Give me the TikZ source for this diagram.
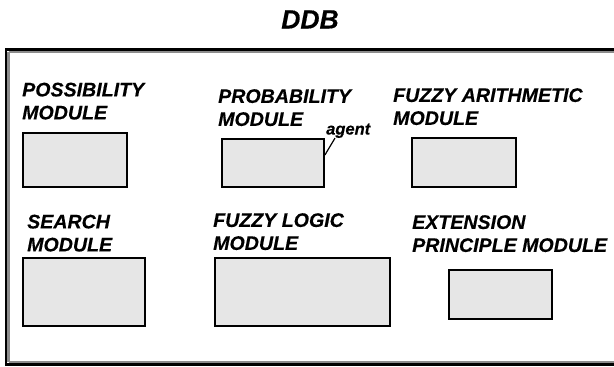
\documentclass[tikz,border=0pt]{standalone}
\usepackage{fontspec}
\setmainfont{Liberation Sans}[BoldItalicFeatures={FakeBold=0.35}]
\definecolor{boxgray}{HTML}{E6E6E6}
\definecolor{framegray}{HTML}{8C8C8C}
\begin{document}
\begin{tikzpicture}[x=1pt, y=-1pt,
  modlabel/.style={anchor=north west, inner sep=0pt, align=left,
    font=\fontsize{19.6}{23}\selectfont\bfseries\itshape},
  modbox/.style={draw, line width=1.8pt, fill=boxgray}]
\useasboundingbox (0,0) rectangle (614,367);
% outer frame, runs off the right side
\begin{scope}
\clip (0,0) rectangle (614,367);
\draw[line width=2.5pt] (6,49.5) rectangle (630,364.5);
\draw[framegray, line width=2.5pt] (8.5,52) -- (630,52);
\draw[framegray, line width=2.5pt] (8.5,52) -- (8.5,362);
\draw[framegray, line width=2.5pt] (8.5,362) -- (630,362);
\end{scope}
\node[anchor=base, inner sep=0pt, font=\fontsize{26.5}{30}\selectfont\bfseries\itshape] (ddb) at (310,28.5){DDB};
% top row
\node[modlabel] (possib) at (22,82.5){POSSIBILITY\\MODULE};
\node[modlabel] (probab) at (218,89){PROBABILITY\\MODULE};
\node[modlabel] (fuzzar) at (393,88){FUZZY ARITHMETIC\\MODULE};
\node[modbox, minimum width=104pt, minimum height=54pt] (possbox) at (75,160){};
\node[modbox, minimum width=102pt, minimum height=48pt] (probbox) at (273,163){};
\node[modbox, minimum width=104pt, minimum height=49pt] (fuzzbox) at (464,162.5){};
\node[anchor=base west, inner sep=0pt, font=\fontsize{16.5}{18}\selectfont\bfseries\itshape] (agent) at (326,134.5){agent};
\draw[line width=1.2pt] ([xshift=9pt]agent.south west) -- ([yshift=8pt]probbox.east);
% bottom row
\node[modlabel] (search) at (27,214.5){SEARCH\\MODULE};
\node[modlabel] (logic) at (213,213){FUZZY LOGIC\\MODULE};
\node[modlabel] (extens) at (412,215){EXTENSION\\PRINCIPLE MODULE};
\node[modbox, minimum width=122pt, minimum height=68pt] (searchbox) at (84,292){};
\node[modbox, minimum width=175pt, minimum height=68pt] (logicbox) at (302.5,292){};
\node[modbox, minimum width=103pt, minimum height=49pt] (extbox) at (500.5,294.5){};
\end{tikzpicture}
\end{document}
